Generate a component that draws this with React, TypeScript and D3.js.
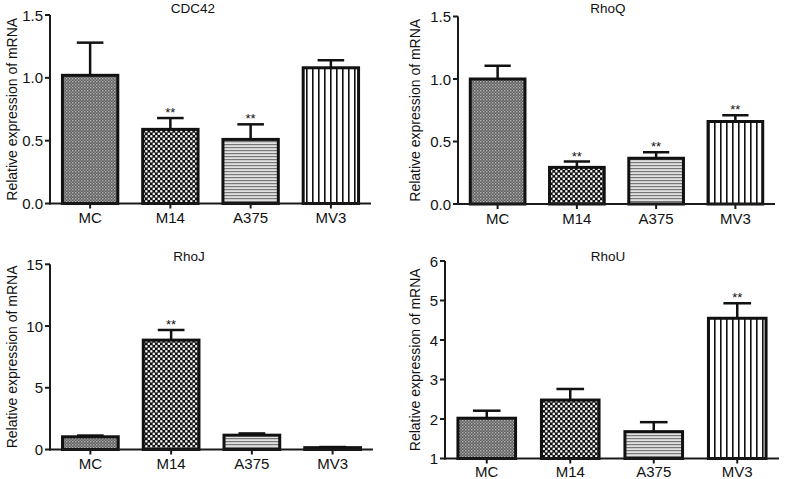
import React from "react";
import * as d3 from "d3";

const categories = ["MC", "M14", "A375", "MV3"];

const cdc42Means = [1.02, 0.59, 0.51, 1.08];
const cdc42Errors = [0.26, 0.09, 0.12, 0.06];
const cdc42Sig = ["", "**", "**", ""];
const cdc42Ticks = [0, 0.5, 1.0, 1.5];

const rhoQMeans = [1.0, 0.293, 0.366, 0.66];
const rhoQErrors = [0.106, 0.047, 0.048, 0.05];
const rhoQSig = ["", "**", "**", "**"];
const rhoQTicks = [0, 0.5, 1.0, 1.5];

const rhoJMeans = [1.03, 8.86, 1.16, 0.15];
const rhoJErrors = [0.1, 0.82, 0.14, 0.05];
const rhoJSig = ["", "**", "", ""];
const rhoJTicks = [0, 5, 10, 15];

const rhoUMeans = [2.02, 2.48, 1.68, 4.55];
const rhoUErrors = [0.19, 0.28, 0.24, 0.38];
const rhoUSig = ["", "", "", "**"];
const rhoUTicks = [1, 2, 3, 4, 5, 6];

const titles = ["CDC42", "RhoQ", "RhoJ", "RhoU"];
const yLabel = "Relative expression of mRNA";

type Panel = {
  title: string;
  means: number[];
  errors: number[];
  sig: string[];
  ticks: number[];
  fmt: (v: number) => string;
  x0: number;
  x1: number;
  yBottom: number;
  yTop: number;
  labelX: number;
  titleX: number;
  titleY: number;
};

const FONT = "'Liberation Sans', Arial, Helvetica, sans-serif";

const panels: Panel[] = [
  {
    title: titles[0], means: cdc42Means, errors: cdc42Errors, sig: cdc42Sig, ticks: cdc42Ticks,
    fmt: d3.format(".1f"), x0: 50, x1: 371, yBottom: 203.5, yTop: 15, labelX: 13, titleX: 193, titleY: 12.5,
  },
  {
    title: titles[1], means: rhoQMeans, errors: rhoQErrors, sig: rhoQSig, ticks: rhoQTicks,
    fmt: d3.format(".1f"), x0: 458, x1: 775, yBottom: 204, yTop: 16.5, labelX: 416, titleX: 608, titleY: 12.5,
  },
  {
    title: titles[2], means: rhoJMeans, errors: rhoJErrors, sig: rhoJSig, ticks: rhoJTicks,
    fmt: d3.format("d"), x0: 50, x1: 373, yBottom: 449.5, yTop: 264.3, labelX: 13, titleX: 189, titleY: 261,
  },
  {
    title: titles[3], means: rhoUMeans, errors: rhoUErrors, sig: rhoUSig, ticks: rhoUTicks,
    fmt: d3.format("d"), x0: 445, x1: 779, yBottom: 458.5, yTop: 261, labelX: 416, titleX: 608, titleY: 261,
  },
];

const patternIds = ["patMC", "patM14", "patA375", "patMV3"];

function Patterns() {
  return (
    <defs>
      <pattern id="patMC" width="3" height="6" patternUnits="userSpaceOnUse">
        <rect width="3" height="6" fill="#5e5e5e" />
        <rect x="0" y="0" width="1.4" height="1.4" fill="#b4b4b4" />
        <rect x="1.5" y="1.5" width="1.4" height="1.4" fill="#a0a0a0" />
        <rect x="0" y="3" width="1.4" height="1.4" fill="#b4b4b4" />
        <rect x="1.5" y="4.5" width="1.4" height="1.4" fill="#909090" />
      </pattern>
      <pattern id="patM14" width="5" height="5" patternUnits="userSpaceOnUse">
        <rect width="5" height="5" fill="#111" />
        <rect x="0.2" y="0.2" width="2.2" height="2.2" fill="#fff" />
        <rect x="2.7" y="2.7" width="2.2" height="2.2" fill="#fff" />
      </pattern>
      <pattern id="patA375" width="4" height="3" patternUnits="userSpaceOnUse">
        <rect width="4" height="3" fill="#e2e2e2" />
        <rect x="0" y="0" width="4" height="1.2" fill="#777" />
      </pattern>
      <pattern id="patMV3" width="6" height="4" patternUnits="userSpaceOnUse">
        <rect width="6" height="4" fill="#fff" />
        <rect x="0" y="0" width="1.6" height="4" fill="#111" />
      </pattern>
    </defs>
  );
}

function ChartPanel({ p }: { p: Panel }) {
  const x = d3
    .scaleBand<string>()
    .domain(categories)
    .range([p.x0, p.x1])
    .paddingInner(0.31)
    .paddingOuter(0.155);
  const y = d3
    .scaleLinear()
    .domain([p.ticks[0], p.ticks[p.ticks.length - 1]])
    .range([p.yBottom, p.yTop]);
  const bw = x.bandwidth();
  const base = y(p.ticks[0]);
  const axisColor = "#1a1a1a";
  const midY = (p.yBottom + p.yTop) / 2;
  return (
    <g>
      <text x={p.titleX} y={p.titleY} textAnchor="middle" fontSize={13.5} fontFamily={FONT} fill="#111">
        {p.title}
      </text>
      <text
        transform={`translate(${p.labelX},${midY}) rotate(-90)`}
        textAnchor="middle"
        dominantBaseline="middle"
        fontSize={14}
        fontFamily={FONT}
        fill="#111"
      >
        {yLabel}
      </text>
      {categories.map((c, i) => {
        const cx = (x(c) as number) + bw / 2;
        const top = y(p.means[i]);
        const errTop = y(p.means[i] + p.errors[i]);
        const capW = bw * 0.48;
        return (
          <g key={c}>
            <line x1={cx} x2={cx} y1={top} y2={errTop} stroke="#111" strokeWidth={2.5} />
            <line x1={cx - capW / 2} x2={cx + capW / 2} y1={errTop} y2={errTop} stroke="#111" strokeWidth={2.5} />
            <rect
              x={x(c)}
              y={top}
              width={bw}
              height={Math.max(base - top, 0)}
              fill={`url(#${patternIds[i]})`}
              stroke="#111"
              strokeWidth={3}
            />
            {p.sig[i] && (
              <text x={cx} y={errTop - 1} textAnchor="middle" fontSize={13} fontFamily={FONT} fill="#111">
                {p.sig[i]}
              </text>
            )}
          </g>
        );
      })}
      {/* y axis */}
      <line x1={p.x0} x2={p.x0} y1={p.yTop} y2={base + 1} stroke={axisColor} strokeWidth={2} />
      {p.ticks.map((t) => (
        <g key={t}>
          <line x1={p.x0 - 5} x2={p.x0} y1={y(t)} y2={y(t)} stroke={axisColor} strokeWidth={2} />
          <text
            x={p.x0 - 7}
            y={y(t)}
            textAnchor="end"
            dominantBaseline="central"
            fontSize={15}
            fontFamily={FONT}
            fill="#111"
          >
            {p.fmt(t)}
          </text>
        </g>
      ))}
      {/* x axis */}
      <line x1={p.x0 - 1} x2={p.x1} y1={base} y2={base} stroke={axisColor} strokeWidth={2} />
      {categories.map((c) => {
        const cx = (x(c) as number) + bw / 2;
        return (
          <g key={c}>
            <line x1={cx} x2={cx} y1={base} y2={base + 5} stroke={axisColor} strokeWidth={2} />
            <text x={cx} y={Math.min(base + 19.5, 477)} textAnchor="middle" fontSize={15} fontFamily={FONT} fill="#111">
              {c}
            </text>
          </g>
        );
      })}
    </g>
  );
}

export default function App() {
  return (
    <svg
      width={787}
      height={479}
      style={{ position: "absolute", left: 0, top: 0, background: "#fff" }}
    >
      <Patterns />
      <rect width={787} height={479} fill="#fff" />
      {panels.map((p) => (
        <ChartPanel key={p.title} p={p} />
      ))}
    </svg>
  );
}
